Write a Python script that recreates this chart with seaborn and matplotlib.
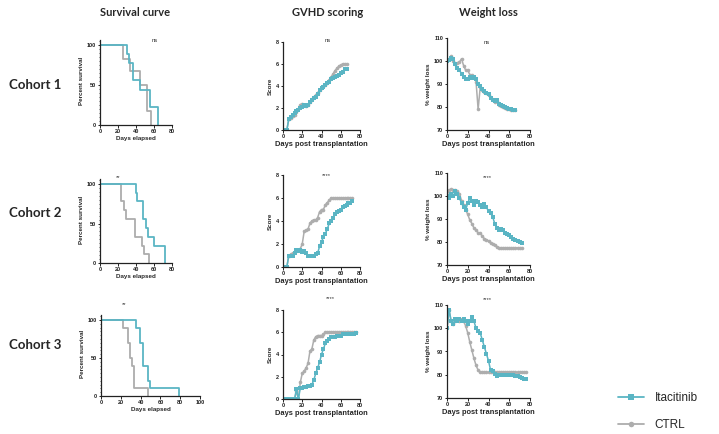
import numpy as np
import pandas as pd
import matplotlib
matplotlib.use("Agg")
import matplotlib.pyplot as plt
from matplotlib.lines import Line2D
import seaborn as sns

# ---------- survival (step curves: time of event, % surviving after it)
s1_ita_t = [0, 30, 32, 37, 44, 56, 64]
s1_ita_p = [100, 89, 78, 56, 44, 22, 0]
s1_ctrl_t = [0, 26, 33, 44, 52, 57]
s1_ctrl_p = [100, 83, 67, 50, 17, 0]

s2_ita_t = [0, 40, 41, 48, 51, 53, 60, 72]
s2_ita_p = [100, 89, 78, 56, 44, 33, 22, 0]
s2_ctrl_t = [0, 23, 27, 29, 39, 47, 49, 54]
s2_ctrl_p = [100, 78, 67, 56, 33, 22, 11, 0]

s3_ita_t = [0, 35, 39, 42, 47, 49, 79]
s3_ita_p = [100, 90, 70, 40, 20, 10, 0]
s3_ctrl_t = [0, 22, 27, 29, 31, 33, 47]
s3_ctrl_p = [100, 90, 70, 50, 40, 10, 0]

# ---------- GVHD score
g1_days = list(range(0, 67, 2))
g1_ita = [0, 0, 0, 1.0, 1.2, 1.4, 1.5, 1.7, 1.8, 2.0, 2.1, 2.3, 2.2, 2.3, 2.5, 2.7, 2.9,
          3.0, 3.3, 3.6, 3.8, 3.9, 4.1, 4.3, 4.4, 4.6, 4.7, 4.8, 4.9, 5.0, 5.2, 5.3, 5.5, 5.5]
g1_ctrl = [0, 0, 0, 1.0, 1.1, 1.3, 1.4, 1.6, 1.9, 2.3, 2.4, 2.3, 2.2, 2.3, 2.5, 2.8, 3.0,
           3.2, 3.4, 3.6, 3.9, 4.0, 4.1, 4.3, 4.5, 4.8, 5.1, 5.4, 5.6, 5.8, 5.9, 6.0, 6.0, 6.0]

g2_days = list(range(0, 73, 2))
g2_ita = [0, 0, 0, 1.0, 1.0, 1.0, 1.2, 1.5, 1.4, 1.5, 1.3, 1.4, 1.2, 1.0, 1.0, 1.0, 1.0,
          1.1, 1.2, 1.8, 2.2, 2.6, 2.9, 3.3, 3.8, 4.0, 4.3, 4.6, 4.8, 4.9, 5.0, 5.2, 5.3,
          5.4, 5.6, 5.6, 5.7]
g2_ctrl = [0, 0, 0, 1.0, 1.1, 1.2, 1.3, 1.5, 1.5, 1.6, 2.0, 3.1, 3.2, 3.3, 3.8, 4.0, 4.1,
           4.1, 4.3, 4.8, 5.0, 5.0, 5.4, 5.6, 5.8, 6.0, 6.0, 6.0, 6.0, 6.0, 6.0, 6.0, 6.0,
           6.0, 6.0, 6.0, 6.0]

g3_days = list(range(0, 77, 2))
g3_ita = [0, 0, 0, 0, 0, 0, 0, 0.9, 0, 1.0, 1.0, 1.1, 1.1, 1.2, 1.2, 1.3, 1.7, 2.3, 2.8,
          3.3, 4.0, 4.5, 5.0, 5.2, 5.4, 5.6, 5.6, 5.6, 5.7, 5.7, 5.7, 5.8, 5.8, 5.8, 5.8,
          5.8, 5.8, 5.8, 5.9]
g3_ctrl = [0, 0, 0, 0, 0, 0, 0, 0.7, 0, 1.5, 2.3, 2.5, 2.8, 3.2, 4.3, 4.5, 5.3, 5.6, 5.7,
           5.7, 5.7, 5.8, 6.0, 6.0, 6.0, 6.0, 6.0, 6.0, 6.0, 6.0, 6.0, 6.0, 6.0, 6.0, 6.0,
           6.0, 6.0, 6.0, 6.0]

# ---------- weight (% of initial)
w1_days = list(range(0, 67, 2))
w1_ita = [100, 100.5, 101.5, 101, 98.5, 97, 96, 94.5, 93, 92, 92, 93, 92.5, 93, 92, 90,
          89, 88, 87, 86, 85.5, 84, 83, 82.5, 83, 81.5, 81, 80.5, 80, 79.5, 79, 79, 78.5, 78.5]
w1_ctrl = [100, 101, 102, 100, 98.5, 99, 99.5, 101, 98, 96, 96, 94, 94, 93, 91, 79,
           88.5, 87.5, 86.5, 86, 85, 84, 83, 82, 82.5, 81, 80.5, 80, 79.5, 79, 79, 78.5,
           78.5, 78.5]

w2_days = list(range(0, 73, 2))
w2_ita = [100, 99, 101, 100, 102, 101, 99, 97, 95, 94, 97, 99, 98, 96, 98, 97.5, 96, 95,
          96.5, 95, 93.5, 92.5, 91, 88, 86, 85, 85.5, 85, 84, 83.5, 83, 82, 81.5, 81,
          80.5, 80, 79.5]
w2_ctrl = [100, 102.5, 103, 102.5, 102.5, 102, 101, 98, 96, 94, 92, 89.5, 88, 86, 85, 84,
           84, 82.5, 81.5, 81, 80.5, 79.5, 79, 78.5, 78, 77.5, 77.5, 77.5, 77.5, 77.5,
           77.5, 77.5, 77.5, 77.5, 77.5, 77.5, 77.5]

w3_days = list(range(0, 77, 2))
w3_ita = [100, 108, 103, 102, 104, 103, 104, 103, 104, 103, 102, 103, 105, 103, 100, 99,
          98, 95, 92, 89, 86, 82, 81.5, 80.5, 79.5, 80, 80, 80, 80, 80, 80, 80, 80, 79.5,
          79.5, 79, 78.5, 78, 78]
w3_ctrl = [100, 108, 103, 102, 103, 104, 103, 104, 103, 101, 98, 94, 90.5, 87, 84, 82, 81,
           81, 81, 81, 81, 81, 81, 81, 81, 81, 81, 81, 81, 81, 81, 81, 81, 81, 81, 81, 81,
           81, 81]

col_titles = ["Survival curve", "GVHD scoring", "Weight loss"]
row_titles = ["Cohort 1", "Cohort 2", "Cohort 3"]
sig_marks = [["ns", "ns", "ns"], ["**", "****", "****"], ["**", "****", "****"]]

# ---------- style
sns.set_theme(style="ticks")
plt.rcParams['font.family'] = ['Liberation Sans', 'DejaVu Sans']

TEAL = '#5ab5c4'
GRAY = '#adadad'
PAL = {'CTRL': GRAY, 'Itacitinib': TEAL}
MARK = {'CTRL': 'o', 'Itacitinib': 's'}

W, H = 719, 434
fig = plt.figure(figsize=(W / 100, H / 100), dpi=100)


def add_ax(left, right, top, bottom):
    return fig.add_axes([left / W, 1 - bottom / H, (right - left) / W, (bottom - top) / H])


def style_ax(ax):
    sns.despine(ax=ax)
    for sp in ['left', 'bottom']:
        ax.spines[sp].set_linewidth(0.9)
        ax.spines[sp].set_color('#222222')
    ax.tick_params(labelsize=4, length=1.8, width=0.7, pad=1, colors='#222222')
    ax.tick_params(which='minor', length=1.0, width=0.5)
    for lab in ax.get_xticklabels() + ax.get_yticklabels():
        lab.set_fontweight('bold')


def long_df(x1, y1, x2, y2, xn, yn):
    a = pd.DataFrame({xn: x2, yn: y2, 'group': 'CTRL'})
    b = pd.DataFrame({xn: x1, yn: y1, 'group': 'Itacitinib'})
    return pd.concat([a, b], ignore_index=True)


def survival(ax, ti, pi, tc, pc, xmax):
    df = long_df(ti, pi, tc, pc, 'days', 'pct')
    sns.lineplot(data=df, x='days', y='pct', hue='group', palette=PAL, estimator=None,
                 drawstyle='steps-post', lw=1.3, legend=False, ax=ax)
    ax.set_xlim(0, xmax)
    ax.set_ylim(0, 110)
    ax.set_xticks(np.arange(0, xmax + 1, 20))
    ax.set_yticks([0, 50, 100])
    ax.set_yticks(np.arange(0, 106, 5), minor=True)
    ax.spines['left'].set_bounds(0, 106)
    style_ax(ax)
    ax.set_xlabel('Days elapsed', fontsize=4.5, fontweight='bold', labelpad=1.5)
    ax.set_ylabel('Percent survival', fontsize=4.5, fontweight='bold', labelpad=2)


def timecourse(ax, d, yi, yc, ylim, yticks, ylabel):
    df = long_df(d, yi, d, yc, 'days', 'val')
    sns.lineplot(data=df, x='days', y='val', hue='group', style='group', palette=PAL,
                 markers=MARK, dashes=False, estimator=None, lw=1.1, markersize=2.6,
                 markeredgewidth=0, legend=False, ax=ax)
    ax.set_xlim(0, 80)
    ax.set_ylim(*ylim)
    ax.set_xticks([0, 20, 40, 60, 80])
    ax.set_yticks(yticks)
    style_ax(ax)
    ax.set_xlabel('Days post transplantation', fontsize=5.4, fontweight='bold', labelpad=1.5)
    ax.set_ylabel(ylabel, fontsize=4.5, fontweight='bold', labelpad=2)


def surv_box(left, right, y0, y100):
    return left, right, y0 - (y0 - y100) * 1.1, y0

# pixel boxes (left, right, top, bottom)
surv_data = [(s1_ita_t, s1_ita_p, s1_ctrl_t, s1_ctrl_p, 80, surv_box(100, 172, 125, 45)),
             (s2_ita_t, s2_ita_p, s2_ctrl_t, s2_ctrl_p, 80, surv_box(100, 172, 263, 184)),
             (s3_ita_t, s3_ita_p, s3_ctrl_t, s3_ctrl_p, 100, surv_box(101, 200, 396, 320))]
for ti, pi, tc, pc, xmax, box in surv_data:
    survival(add_ax(*box), ti, pi, tc, pc, xmax)

gvhd_data = [(g1_days, g1_ita, g1_ctrl, (283, 360, 42, 130)),
             (g2_days, g2_ita, g2_ctrl, (283, 360, 175, 267)),
             (g3_days, g3_ita, g3_ctrl, (283, 360, 310, 399))]
for d, yi, yc, box in gvhd_data:
    timecourse(add_ax(*box), d, yi, yc, (0, 8), [0, 2, 4, 6, 8], 'Score')

weight_data = [(w1_days, w1_ita, w1_ctrl, (447, 530, 38, 130)),
               (w2_days, w2_ita, w2_ctrl, (447, 530, 173, 265)),
               (w3_days, w3_ita, w3_ctrl, (447, 530, 305, 398))]
for d, yi, yc, box in weight_data:
    timecourse(add_ax(*box), d, yi, yc, (70, 110), [70, 80, 90, 100, 110], '% weight loss')

# significance marks
sig_pos = [[(155, 40), (328, 40), (487, 42)],
           [(118, 178), (326, 176), (487, 178)],
           [(124, 305), (330, 299), (487, 300)]]
for r in range(3):
    for c in range(3):
        x, y = sig_pos[r][c]
        fig.text(x / W, 1 - y / H, sig_marks[r][c], fontsize=4.2, ha='center', va='center',
                 color='#333333')

# column and row titles
for x, t in zip([135, 328, 488], col_titles):
    fig.text(x / W, 1 - 13 / H, t, fontsize=8, fontweight='bold', ha='center', va='center',
             family=['Lato', 'DejaVu Sans'])
for y, t in zip([85, 213, 345], row_titles):
    fig.text(35 / W, 1 - y / H, t, fontsize=9.5, fontweight='bold', ha='center', va='center',
             family=['Lato', 'DejaVu Sans'])

handles = [Line2D([], [], color=TEAL, marker='s', ms=4, mew=0, lw=1.3),
           Line2D([], [], color=GRAY, marker='o', ms=4, mew=0, lw=1.3)]
fig.legend(handles, ['Itacitinib', 'CTRL'], loc='upper left',
           bbox_to_anchor=(612 / W, 1 - 386 / H), frameon=False, fontsize=8.5,
           handlelength=2.2, handletextpad=0.9, labelspacing=1.3, borderpad=0)

fig.savefig('out.png', dpi=100, facecolor='white')
